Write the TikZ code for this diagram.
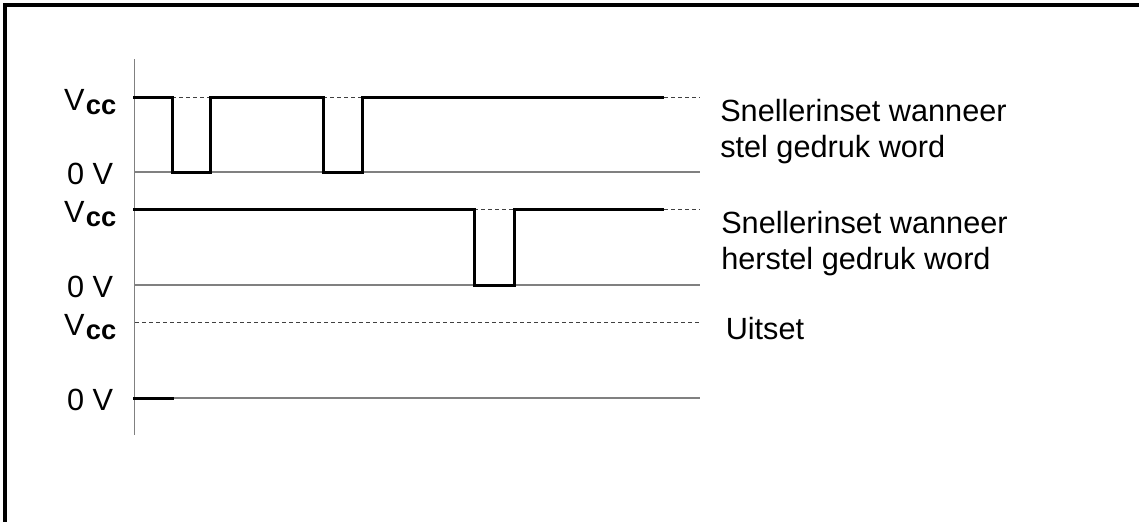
\documentclass[tikz,border=0pt]{standalone}
\usepackage{fontspec}
\setmainfont{Liberation Sans}
\begin{document}
\begin{tikzpicture}[x=0.75pt,y=-0.75pt,
  borderfill/.style={fill=black,draw=none},
  axisline/.style={line width=1.1pt,color=black!50},
  levelline/.style={line width=1.1pt,color=black!50},
  dashline/.style={line width=0.75pt,color=black!75,dash pattern=on 3pt off 2.25pt},
  signal/.style={line width=2.25pt,black,line join=miter},
  lbl/.style={inner sep=0pt,font=\fontsize{23}{27.5}\selectfont},
  vcclbl/.style={lbl,anchor=base east},
  rowlbl/.style={lbl,anchor=base west}]
\useasboundingbox (0,0) rectangle (1139,522);
% frame (top and left only)
\fill[borderfill] (3,3) rectangle (1139,7);
\fill[borderfill] (3,3) rectangle (7,522);
% axis
\draw[axisline] (134.5,59) -- (134.5,435);
% 0 V level lines
\draw[levelline] (135,172) -- (700,172);
\draw[levelline] (135,285) -- (700,285);
\draw[levelline] (135,398) -- (700,398);
% dashed Vcc references
\draw[dashline] (172,97) -- (210,97);
\draw[dashline] (323,97) -- (362,97);
\draw[dashline] (664,97) -- (700,97);
\draw[dashline] (474,209) -- (514,209);
\draw[dashline] (664,209) -- (700,209);
\draw[dashline] (135,322) -- (700,322);
% signals
\draw[signal] (133,97) -- (172,97) -- (172,172) -- (210,172) -- (210,97) -- (323,97) -- (323,172) -- (362,172) -- (362,97) -- (664,97);
\draw[signal] (133,209) -- (474,209) -- (474,285) -- (514,285) -- (514,209) -- (664,209);
\draw[signal] (133,398) -- (174,398);
% left labels
\newcommand{\vccsym}{V\kern1pt\raisebox{-3pt}{\fontsize{20.5}{20.5}\selectfont\bfseries cc}}
\node[vcclbl] (v1) at (116.5,110) {\vccsym};
\node[vcclbl] (z1) at (113.5,184) {0 V};
\node[vcclbl] (v2) at (116.5,222.5) {\vccsym};
\node[vcclbl] (z2) at (113.5,297) {0 V};
\node[vcclbl] (v3) at (116.5,335.5) {\vccsym};
\node[vcclbl] (z3) at (113.5,410) {0 V};
% right labels
\node[rowlbl] (a1) at (720,121) {Snellerinset wanneer};
\node[rowlbl] (a2) at (720,157.7) {stel gedruk word};
\node[rowlbl] (b1) at (721,233) {Snellerinset wanneer};
\node[rowlbl] (b2) at (721,269.5) {herstel gedruk word};
\node[rowlbl] (c1) at (725.5,339.5) {Uitset};
\end{tikzpicture}
\end{document}
